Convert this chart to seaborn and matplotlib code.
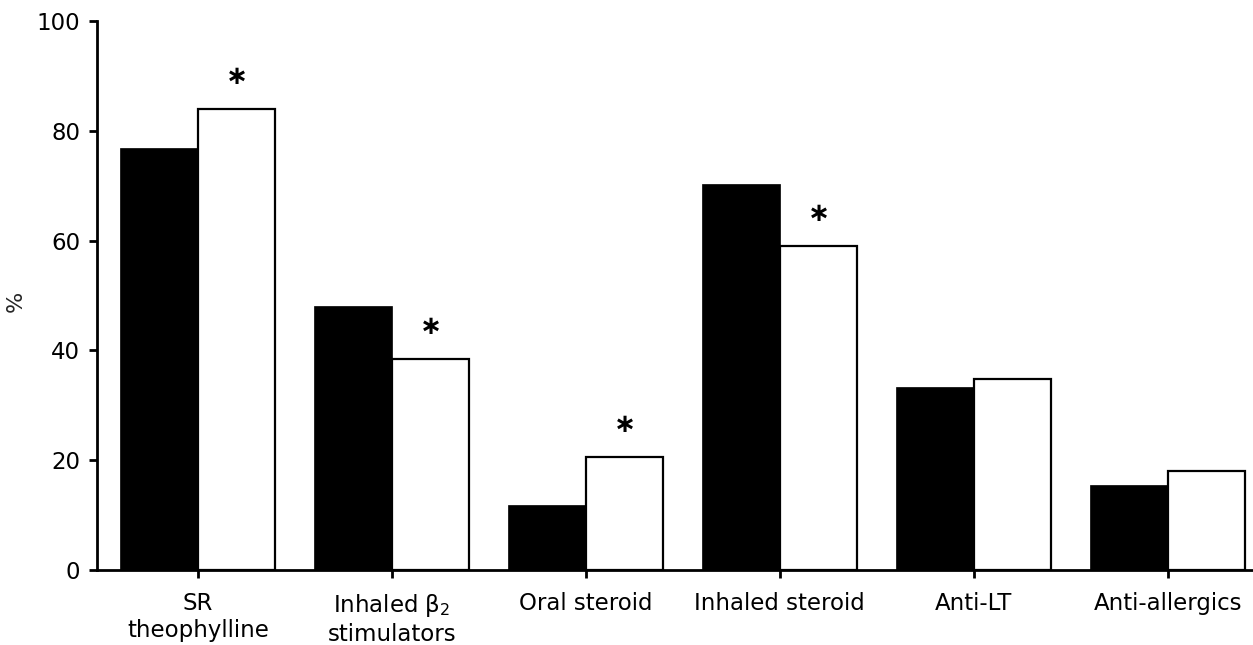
import matplotlib
matplotlib.use("Agg")
import matplotlib.pyplot as plt
import seaborn as sns
import pandas as pd

# Drug classes and the share (%) of patients in each group
categories = ["SR\ntheophylline", "Inhaled β$_2$\nstimulators", "Oral steroid",
              "Inhaled steroid", "Anti-LT", "Anti-allergics"]
group_1 = [76.9, 48.0, 11.8, 70.3, 33.3, 15.5]
group_2 = [84.0, 38.4, 20.6, 59.0, 34.7, 18.1]
significant = [True, True, True, True, False, False]
y_ticks = [0, 20, 40, 60, 80, 100]

sns.set_theme(style="ticks")
plt.rcParams["font.family"] = ["DejaVu Sans"]
plt.rcParams["mathtext.fontset"] = "dejavusans"

df = pd.DataFrame({
    "drug": categories * 2,
    "pct": group_1 + group_2,
    "group": ["Group 1"] * len(categories) + ["Group 2"] * len(categories),
})

fig = plt.figure(figsize=(12.53, 6.45), dpi=100)
ax = fig.add_axes([0.0774, 0.1163, 0.9226, 0.8511])

sns.barplot(data=df, x="drug", y="pct", hue="group", order=categories,
            hue_order=["Group 1", "Group 2"], palette=["black", "white"],
            width=0.8, gap=0, dodge=True, legend=False, ax=ax)

for bar in ax.patches:
    bar.set_edgecolor("black")
    bar.set_linewidth(1.6 if bar.get_facecolor()[0] > 0.5 else 0.5)

# Significance markers above the second group's bars
for i, (v, sig) in enumerate(zip(group_2, significant)):
    if sig:
        ax.annotate("∗", xy=(i + 0.2, v), xytext=(0, 23), textcoords="offset points",
                    ha="center", va="center", fontsize=19, fontweight="bold",
                    color="black")

ax.set_ylim(0, 100)
ax.set_xlim(-0.52, 5.44)
ax.set_yticks(y_ticks)
ax.set_yticklabels([str(t) for t in y_ticks])
ax.set_xlabel("")
ax.set_ylabel("%", fontsize=16)
ax.yaxis.set_label_coords(-0.062, 0.49)

ax.tick_params(axis="y", direction="out", length=6, width=2, pad=6, labelsize=16.5, colors="black")
ax.tick_params(axis="x", direction="out", length=6, width=2, pad=10, labelsize=16.5, colors="black")
for lbl in ax.get_xticklabels():
    lbl.set_linespacing(1.22)

sns.despine(ax=ax, top=True, right=True)
for side in ("left", "bottom"):
    ax.spines[side].set_linewidth(2)
    ax.spines[side].set_color("black")

fig.savefig("out.png", dpi=100, facecolor="white")
